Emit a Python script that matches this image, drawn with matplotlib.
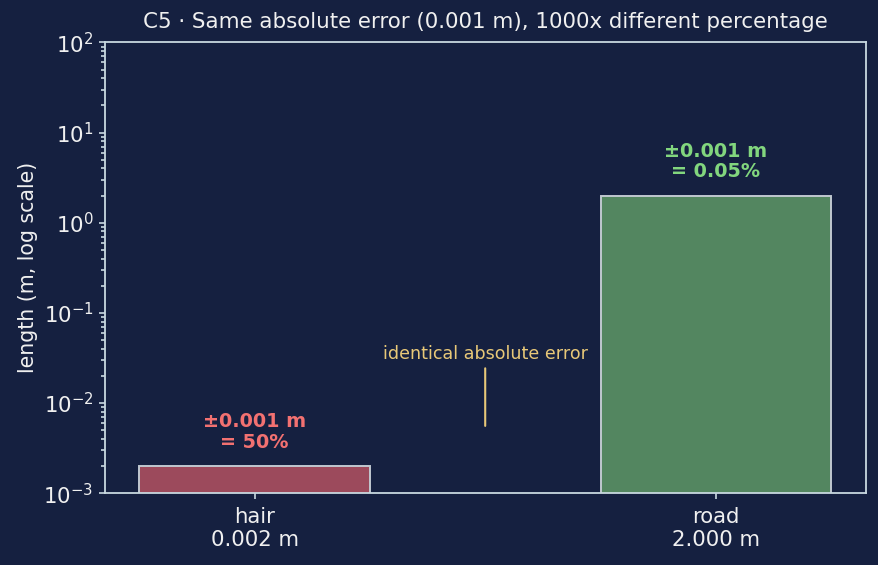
import matplotlib
matplotlib.use("Agg")
import matplotlib.pyplot as plt

# data
names = ["hair", "road"]
lengths = [0.002, 2.0]
abs_err = 0.001
pct_labels = ["50%", "0.05%"]

bg = "#152040"
fg = "#f0f0f0"
bar_colors = ["#9c4a5c", "#538660"]
text_colors = ["#f27171", "#82d67e"]

fig, ax = plt.subplots(figsize=(8.79, 5.65), dpi=100)
fig.patch.set_facecolor(bg)
ax.set_facecolor(bg)

x = list(range(len(names)))
ax.bar(x, lengths, width=0.5, color=bar_colors, edgecolor="#c0c8d0", linewidth=1.4)
ax.set_yscale("log")
ax.set_ylim(1e-3, 1e2)

for i, v in enumerate(lengths):
    ax.text(i, v * 1.45, f"±{abs_err:.3f} m\n= {pct_labels[i]}", ha="center", va="bottom",
            color=text_colors[i], fontsize=13.8, fontweight="bold", linespacing=1.1)

ax.annotate("identical absolute error", xy=(0.5, 0.0052), xytext=(0.5, 0.028),
            ha="center", va="bottom", color="#e8c878", fontsize=12.6,
            arrowprops=dict(arrowstyle="-", color="#e8c878", lw=1.5))

ax.set_xticks(x)
ax.set_xticklabels([f"{n}\n{v:.3f} m" for n, v in zip(names, lengths)])
ax.set_ylabel("length (m, log scale)", color=fg, fontsize=14.8)
ax.set_title("C5 · Same absolute error (0.001 m), 1000x different percentage", color=fg,
             fontsize=15.4, pad=10)
ax.tick_params(colors=fg, labelsize=15.3, which="both", width=1.2)
ax.tick_params(which="major", length=4.5)
ax.tick_params(which="minor", length=2.6)
ax.tick_params(axis="x", pad=5.5)
ax.tick_params(axis="both", which="both", color="#c8d8e0")
for s in ax.spines.values():
    s.set_color("#c8d8e0")
    s.set_linewidth(1.3)

plt.subplots_adjust(left=0.119, right=0.985, top=0.925, bottom=0.127)
plt.savefig("out.png", facecolor=bg)
